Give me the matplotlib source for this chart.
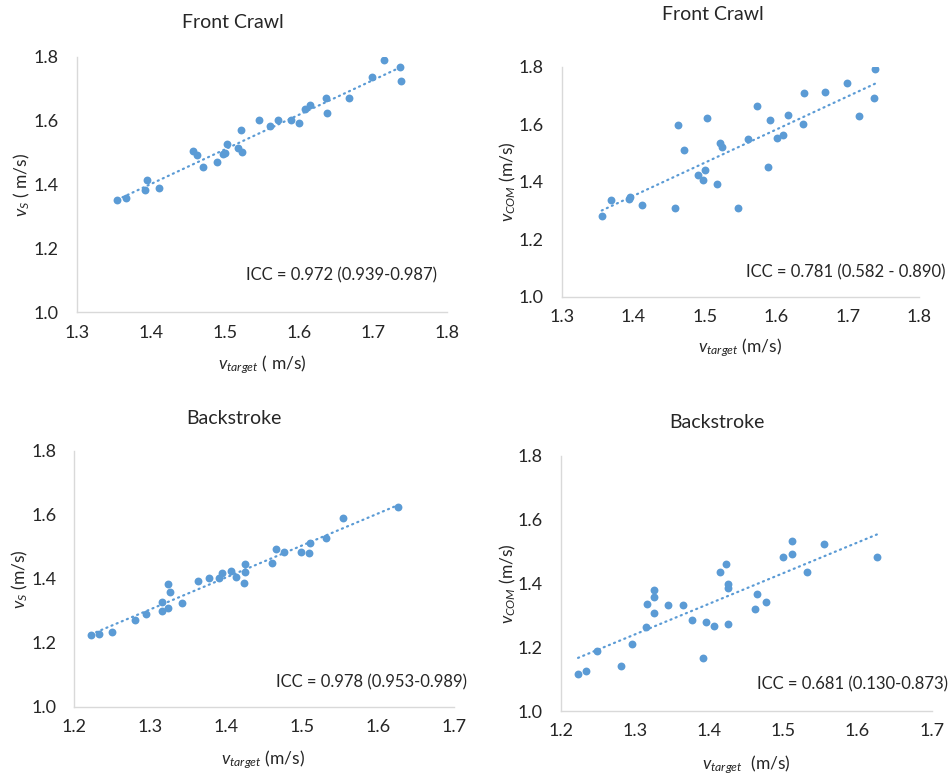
import numpy as np
import matplotlib.pyplot as plt

plt.rcParams['font.family'] = ['Lato', 'DejaVu Sans']
plt.rcParams['mathtext.fontset'] = 'custom'
plt.rcParams['mathtext.rm'] = 'Lato'
plt.rcParams['mathtext.it'] = 'Lato:italic'

# Front crawl: v_target vs v_S
fc_target_s = [1.355, 1.367, 1.392, 1.395, 1.411, 1.457, 1.462, 1.471, 1.489, 1.497,
               1.500, 1.503, 1.517, 1.523, 1.522, 1.546, 1.561, 1.572, 1.589, 1.600,
               1.608, 1.615, 1.636, 1.638, 1.667, 1.699, 1.715, 1.736, 1.738]
fc_vs = [1.351, 1.357, 1.383, 1.414, 1.388, 1.504, 1.492, 1.455, 1.471, 1.495,
         1.500, 1.527, 1.514, 1.502, 1.571, 1.602, 1.584, 1.602, 1.602, 1.593,
         1.636, 1.648, 1.672, 1.625, 1.672, 1.737, 1.790, 1.767, 1.724]

# Front crawl: v_target vs v_COM
fc_target_com = [1.356, 1.369, 1.394, 1.396, 1.412, 1.458, 1.463, 1.471, 1.490, 1.498,
                 1.501, 1.503, 1.517, 1.522, 1.524, 1.546, 1.561, 1.573, 1.588, 1.591,
                 1.601, 1.610, 1.616, 1.637, 1.639, 1.668, 1.699, 1.715, 1.737, 1.738]
fc_vcom = [1.281, 1.335, 1.339, 1.348, 1.319, 1.310, 1.598, 1.509, 1.425, 1.406,
           1.442, 1.621, 1.391, 1.536, 1.519, 1.310, 1.547, 1.665, 1.451, 1.616,
           1.551, 1.563, 1.631, 1.602, 1.708, 1.711, 1.743, 1.628, 1.692, 1.792]

# Backstroke: v_target vs v_S
bs_target_s = [1.222, 1.232, 1.249, 1.280, 1.294, 1.315, 1.315, 1.323, 1.324, 1.326,
               1.342, 1.363, 1.377, 1.391, 1.395, 1.406, 1.413, 1.423, 1.425, 1.425,
               1.460, 1.465, 1.476, 1.499, 1.509, 1.511, 1.532, 1.554, 1.626]
bs_vs = [1.225, 1.227, 1.234, 1.271, 1.289, 1.329, 1.299, 1.309, 1.384, 1.360,
         1.325, 1.392, 1.404, 1.404, 1.418, 1.423, 1.405, 1.386, 1.421, 1.446,
         1.451, 1.493, 1.485, 1.485, 1.480, 1.513, 1.529, 1.591, 1.624]

# Backstroke: v_target vs v_COM
bs_target_com = [1.223, 1.234, 1.249, 1.281, 1.296, 1.315, 1.316, 1.325, 1.325, 1.326,
                 1.344, 1.364, 1.377, 1.392, 1.396, 1.407, 1.414, 1.423, 1.425, 1.425,
                 1.425, 1.461, 1.465, 1.476, 1.500, 1.511, 1.512, 1.532, 1.555, 1.626]
bs_vcom = [1.116, 1.124, 1.188, 1.142, 1.211, 1.263, 1.335, 1.306, 1.358, 1.379,
           1.332, 1.332, 1.286, 1.165, 1.280, 1.266, 1.437, 1.460, 1.272, 1.399,
           1.386, 1.319, 1.367, 1.341, 1.482, 1.491, 1.532, 1.437, 1.523, 1.482]

W, H = 953, 778
blue = '#5B9BD5'
txt = '#262626'

fig = plt.figure(figsize=(W / 100, H / 100), dpi=100)


def px_ax(l, t, r, b):
    return fig.add_axes([l / W, 1 - b / H, (r - l) / W, (b - t) / H])


def ftext(x, y, s, **kw):
    fig.text(x / W, 1 - y / H, s, color=txt, **kw)


panels = [
    dict(box=(76.7, 56.7, 447.3, 312.3), x=fc_target_s, y=fc_vs, xlim=(1.3, 1.8),
         title=(233, 23, 'Front Crawl'), icc=(437, 275, 'ICC = 0.972 (0.939-0.987)'),
         xl=(262, 365, r'$\it{v}_{\it{target}}$ ( m/s)'),
         yl=(22, 185, r'$\it{v}_{\it{S}}$ ( m/s)')),
    dict(box=(561.7, 66.7, 919.3, 296.7), x=fc_target_com, y=fc_vcom, xlim=(1.3, 1.8),
         title=(713, 14, 'Front Crawl'), icc=(946, 272, 'ICC = 0.781 (0.582 - 0.890)'),
         xl=(740, 348, r'$\it{v}_{\it{target}}$ (m/s)'),
         yl=(508, 182, r'$\it{v}_{\it{COM}}$ (m/s)')),
    dict(box=(74.3, 451, 454, 706.7), x=bs_target_s, y=bs_vs, xlim=(1.2, 1.7),
         title=(234, 418, 'Backstroke'), icc=(467, 682, 'ICC = 0.978 (0.953-0.989)'),
         xl=(263, 760, r'$\it{v}_{\it{target}}$ (m/s)'),
         yl=(20, 579, r'$\it{v}_{\it{S}}$ (m/s)')),
    dict(box=(561, 455.7, 931.7, 711), x=bs_target_com, y=bs_vcom, xlim=(1.2, 1.7),
         title=(717, 422, 'Backstroke'), icc=(948, 684, 'ICC = 0.681 (0.130-0.873)'),
         xl=(746, 765, r'$\it{v}_{\it{target}}$  (m/s)'),
         yl=(508, 584, r'$\it{v}_{\it{COM}}$ (m/s)')),
]

for p in panels:
    ax = px_ax(*p['box'])
    x = np.array(p['x'])
    y = np.array(p['y'])
    ax.scatter(x, y, s=32, color=blue, zorder=3, linewidths=0)
    # linear trendline over the data range
    k, b = np.polyfit(x, y, 1)
    xs = np.array([x.min(), x.max()])
    ax.plot(xs, k * xs + b, color=blue, lw=1.6, ls=(0, (0.5, 2.0)),
            dash_capstyle='round', zorder=2)
    ax.set_xlim(*p['xlim'])
    ax.set_ylim(1.0, 1.8)
    ax.set_xticks(np.round(np.arange(p['xlim'][0], p['xlim'][1] + 0.01, 0.1), 1))
    ax.set_yticks([1.0, 1.2, 1.4, 1.6, 1.8])
    ax.xaxis.set_major_formatter(plt.FormatStrFormatter('%.1f'))
    ax.yaxis.set_major_formatter(plt.FormatStrFormatter('%.1f'))
    for s in ['top', 'right']:
        ax.spines[s].set_visible(False)
    for s in ['left', 'bottom']:
        ax.spines[s].set_color('#d9d9d9')
        ax.spines[s].set_linewidth(1)
    ax.tick_params(length=0, labelsize=13, colors=txt, pad=9)
    ax.tick_params(axis='y', pad=13)
    ax.set_facecolor('none')

    tx, ty, ts = p['title']
    ftext(tx, ty, ts, fontsize=14, ha='center', va='center')
    ix, iy, its = p['icc']
    ftext(ix, iy, its, fontsize=12, ha='right', va='center')
    lx, ly, ls_ = p['xl']
    ftext(lx, ly, ls_, fontsize=12.5, ha='center', va='center')
    yx, yy, ys = p['yl']
    ftext(yx, yy, ys, fontsize=12.5, ha='center', va='center', rotation=90)

fig.savefig('out.png', dpi=100)
